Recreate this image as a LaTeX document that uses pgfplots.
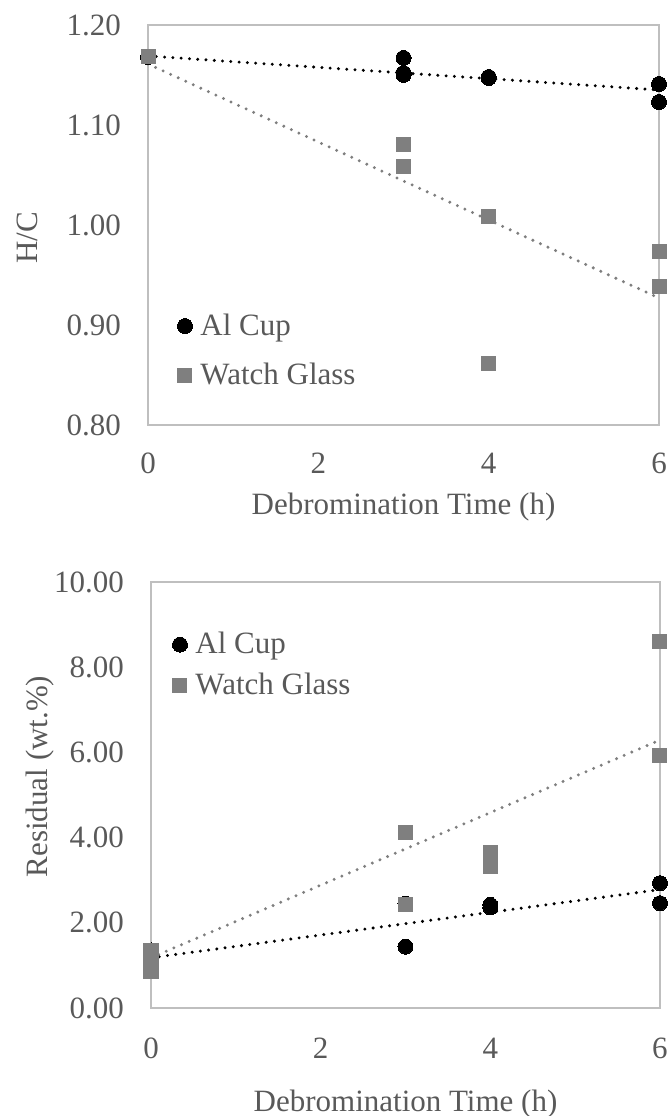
\documentclass[border=0pt]{standalone}
\usepackage{fontspec}
\setmainfont{Liberation Serif}
\usepackage{pgfplots}
\pgfplotsset{compat=1.18}
\definecolor{txtgray}{HTML}{595959}
\definecolor{axgray}{HTML}{BFBFBF}
\definecolor{mkgray}{HTML}{7F7F7F}
\newcommand{\bigf}{\fontsize{31bp}{37bp}\selectfont}

\pgfplotsset{
  mystyle/.style={
    scale only axis,
    axis line style={axgray, line width=1.5bp},
    tick style={draw=none},
    major tick length=0pt,
    ticklabel style={font=\bigf, text=txtgray, inner sep=0pt},
    label style={font=\bigf, text=txtgray},
    xmin=0, xmax=6, xtick={0,2,4,6}, xticklabels={0,2,4,6},
    clip=false,
    legend cell align=left,
    legend image code/.code={\draw[#1] plot coordinates {(0bp,2bp)};},
    legend style={draw=none, fill=none, inner sep=0pt, outer sep=0pt,
      font=\bigf, text=txtgray,
      nodes={inner sep=0pt, text height=21bp, text depth=7bp},
      /tikz/every odd column/.append style={column sep=8bp}},
  },
  trendk/.style={black, line width=3.3bp, line cap=round, dash pattern=on 0bp off 8.3bp, forget plot},
  trendg/.style={mkgray, line width=3.3bp, line cap=round, dash pattern=on 0bp off 8.3bp, forget plot},
  alcup/.style={only marks, mark=*, mark size=7.5bp, mark options={fill=black, draw=black, line width=0pt}},
  watch/.style={only marks, mark=square*, mark size=7bp, mark options={fill=mkgray, draw=mkgray, line width=0pt}},
}

\begin{document}
\begin{tikzpicture}
\useasboundingbox (0bp,0bp) rectangle (670bp,1116bp);

% ---------- top axis: H/C ----------
\begin{axis}[mystyle,
  at={(148bp,691bp)}, anchor=south west,
  width=511bp, height=400bp,
  ymin=0.80, ymax=1.20, ytick={0.80,0.90,1.00,1.10,1.20},
  yticklabels={0.80,0.90,1.00,1.10,1.20},
  yticklabel style={anchor=east, xshift=-27bp},
  xticklabel style={anchor=north, yshift=-28bp},
  xlabel={Debromination Time (h)},
  xlabel style={at={(rel axis cs:0.5,0)}, anchor=base, yshift=-90bp},
  ylabel={H/C},
  ylabel style={at={(rel axis cs:-0.2172,0.4675)}, anchor=base, rotate=0},
  legend style={at={(rel axis cs:0.0577,0.181)}, anchor=west, row sep=21bp},
]
\addplot[alcup] coordinates {(0,1.168) (3,1.167) (3,1.152) (3,1.150) (4,1.148) (4,1.147) (6,1.141) (6,1.123)};
\addlegendentry{Al Cup}
\addplot[watch] coordinates {(0,1.168) (3,1.080) (3,1.058) (4,1.008) (4,0.861) (6,0.973) (6,0.938)};
\addlegendentry{Watch Glass}
\addplot[trendk] coordinates {(0,1.169) (6,1.135)};
\addplot[trendg] coordinates {(0,1.161) (6,0.927)};
\end{axis}

% ---------- bottom axis: Residual ----------
\begin{axis}[mystyle,
  at={(151bp,108bp)}, anchor=south west,
  width=509bp, height=426bp,
  ymin=0, ymax=10, ytick={0,2,4,6,8,10},
  yticklabels={0.00,2.00,4.00,6.00,8.00,10.00},
  yticklabel style={anchor=east, xshift=-27bp},
  xticklabel style={anchor=north, yshift=-30bp},
  xlabel={Debromination Time (h)},
  xlabel style={at={(rel axis cs:0.5,0)}, anchor=base, yshift=-103bp},
  ylabel={Residual (wt.\%)},
  ylabel style={at={(rel axis cs:-0.2024,0.5435)}, anchor=base, rotate=0},
  legend style={at={(rel axis cs:0.0422,0.80)}, anchor=west, row sep=13bp},
]
\addplot[alcup] coordinates {(0,1.35) (0,1.10) (0,0.90) (3,2.45) (3,1.44) (4,2.42) (4,2.36) (6,2.93) (6,2.46)};
\addlegendentry{Al Cup}
\addplot[watch] coordinates {(0,1.36) (0,1.12) (0,0.86) (3,4.11) (3,2.44) (4,3.64) (4,3.47) (4,3.31) (6,8.60) (6,5.92)};
\addlegendentry{Watch Glass}
\addplot[trendk] coordinates {(0,1.18) (6,2.78)};
\addplot[trendg] coordinates {(0,1.18) (6,6.29)};
\end{axis}
\end{tikzpicture}
\end{document}
